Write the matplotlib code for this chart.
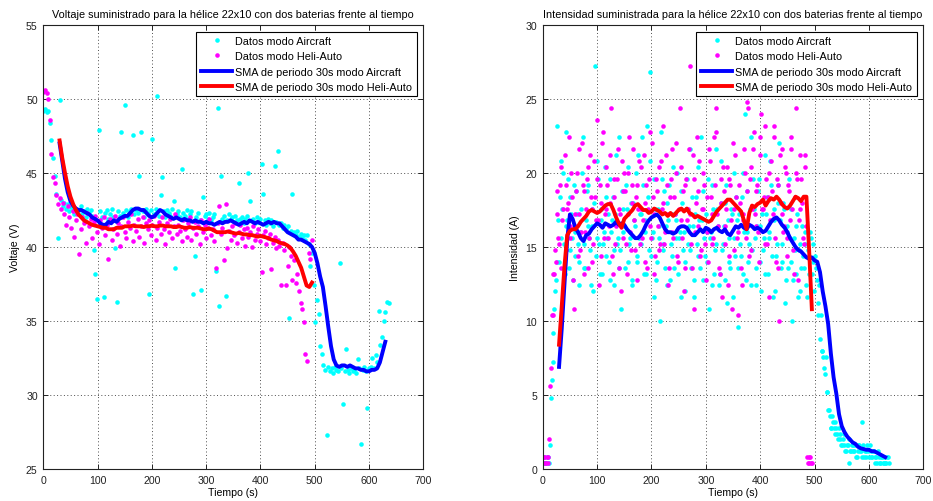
import numpy as np
import matplotlib
matplotlib.use("Agg")
import matplotlib.pyplot as plt

plt.rcParams['font.family'] = ['Liberation Sans', 'DejaVu Sans']

# muestras leidas cada 3 s, SMA leida cada 5 s desde t=30 s
paso_datos = 3
paso_sma = 5
inicio_sma = 30

# Voltaje (V)
volt_air = [
    49.2, 49.3, 49.1, 49.2, 48.4, 47.2, 46.0, 44.8, 43.6, 40.6,
    49.9, 43.2, 42.8, 43.0, 42.6, 42.9, 42.4, 42.7, 42.5, 42.2,
    42.6, 42.3, 42.5, 42.8, 42.2, 42.4, 42.0, 42.6, 42.3, 42.5,
    42.1, 39.8, 38.2, 36.5, 47.9, 42.4, 42.0, 36.6, 42.3, 42.5,
    41.9, 42.2, 42.6, 42.0, 39.9, 36.3, 42.4, 42.1, 47.8, 42.3,
    49.6, 42.5, 42.0, 42.4, 42.6, 47.6, 42.2, 42.5, 42.3, 44.8,
    47.8, 42.4, 42.0, 42.6, 42.3, 36.8, 42.5, 47.3, 42.2, 42.6,
    50.2, 42.1, 43.5, 44.7, 42.4, 42.0, 42.5, 42.3, 42.1, 42.6,
    43.1, 38.6, 42.2, 42.4, 42.0, 45.3, 42.3, 42.1, 42.5, 41.9,
    42.2, 42.4, 36.8, 39.4, 42.0, 42.3, 41.8, 37.1, 43.4, 42.1,
    42.2, 41.9, 42.3, 41.8, 42.0, 42.2, 38.4, 49.4, 36.0, 44.8,
    41.9, 42.1, 36.7, 41.8, 42.2, 41.9, 42.0, 41.7, 42.1, 41.8,
    44.3, 41.9, 42.0, 41.6, 41.9, 42.1, 45.0, 43.1, 41.8, 41.9,
    41.6, 42.0, 41.7, 41.9, 45.6, 43.6, 41.8, 41.5, 41.9, 41.6,
    41.8, 41.4, 45.5, 41.7, 46.5, 41.5, 41.6, 41.3, 41.5, 41.2,
    41.4, 35.2, 41.1, 43.6, 41.0, 40.8, 41.1, 40.7, 40.9, 40.6,
    40.8, 40.5, 40.8, 40.2, 38.7, 39.6, 37.4, 34.9, 36.4, 35.5,
    33.3, 32.8, 32.0, 31.7, 27.3, 31.9, 31.6, 31.8, 31.5, 31.9,
    31.7, 31.6, 38.9, 31.8, 29.4, 31.6, 33.1, 31.7, 31.5, 31.8,
    31.6, 31.7, 31.5, 32.4, 31.8, 26.7, 31.7, 31.9, 31.6, 29.1,
    31.8, 31.9, 32.5, 31.8, 32.7, 32.2, 35.7, 33.4, 33.9, 35.0,
    35.6, 36.3, 36.2]

volt_heli = [
    50.5, 50.6, 50.4, 50.0, 48.6, 46.3, 44.7, 44.3, 43.5, 42.9,
    43.3, 42.6, 43.0, 42.2, 41.5, 42.8, 42.0, 41.3, 42.4, 40.7,
    41.8, 42.2, 39.5, 41.2, 42.0, 41.6, 40.3, 42.3, 41.4, 41.9,
    40.6, 41.7, 42.1, 41.0, 40.2, 41.8, 41.3, 42.0, 40.8, 41.5,
    39.2, 41.9, 40.5, 41.2, 42.1, 40.9, 41.6, 40.1, 41.4, 42.0,
    41.0, 40.6, 41.7, 41.3, 42.2, 40.4, 41.5, 41.1, 41.9, 40.7,
    41.4, 42.0, 40.3, 41.6, 41.2, 41.8, 40.8, 41.5, 42.1, 40.5,
    41.3, 41.7, 40.9, 42.0, 41.2, 40.2, 41.6, 41.0, 41.9, 40.6,
    41.4, 42.2, 40.9, 41.5, 41.1, 40.4, 41.8, 41.2, 40.7, 41.6,
    42.0, 40.5, 41.3, 41.7, 40.9, 41.4, 40.2, 41.8, 41.0, 41.5,
    40.6, 41.3, 41.9, 40.8, 41.2, 40.4, 38.6, 41.6, 42.8, 40.9,
    41.3, 39.1, 42.9, 39.9, 41.1, 40.5, 41.4, 40.8, 41.6, 40.3,
    41.0, 41.5, 40.6, 41.2, 40.1, 41.3, 40.7, 41.0, 40.0, 41.4,
    40.5, 40.9, 41.2, 40.4, 38.3, 40.8, 41.1, 40.2, 40.6, 40.9,
    38.5, 40.3, 40.7, 39.9, 40.5, 40.1, 37.4, 40.3, 39.8, 37.4,
    38.7, 40.0, 39.4, 37.8, 39.1, 37.6, 38.2, 37.0, 36.2, 35.8,
    34.9, 32.8, 32.3, 39.6, 39.2, 40.5]

sma_volt_air = [
    47.0, 45.8, 44.6, 43.7, 43.1, 42.8, 42.6, 42.5, 42.5, 42.4,
    42.3, 42.2, 42.0, 41.9, 41.8, 41.6, 41.5, 41.5, 41.7, 41.6,
    41.8, 41.7, 41.9, 42.0, 42.1, 42.1, 42.3, 42.5, 42.6, 42.6,
    42.5, 42.5, 42.3, 42.1, 42.0, 42.1, 42.3, 42.5, 42.4, 42.2,
    42.1, 42.0, 41.9, 42.0, 41.9, 41.8, 41.9, 41.8, 41.8, 41.7,
    41.8, 41.7, 41.7, 41.6, 41.7, 41.6, 41.6, 41.5, 41.6, 41.7,
    41.6, 41.7, 41.7, 41.8, 41.7, 41.6, 41.5, 41.6, 41.7, 41.6,
    41.8, 41.7, 41.6, 41.7, 41.6, 41.5, 41.6, 41.7, 41.6, 41.7,
    41.6, 41.6, 41.4, 41.2, 41.0, 40.9, 40.8, 40.7, 40.5, 40.5,
    40.4, 40.3, 40.2, 40.0, 39.6, 38.9, 38.0, 37.3, 36.0, 34.6,
    33.3, 32.4, 32.0, 31.9, 32.0, 32.0, 31.9, 32.0, 31.9, 31.8,
    31.8, 31.7, 31.7, 31.6, 31.6, 31.7, 31.7, 31.8, 32.2, 32.9,
    33.6]

sma_volt_heli = [
    47.2, 46.0, 45.0, 44.1, 43.4, 42.9, 42.5, 42.2, 42.0, 41.8,
    41.7, 41.6, 41.5, 41.45, 41.4, 41.35, 41.3, 41.3, 41.2, 41.2,
    41.2, 41.3, 41.3, 41.3, 41.4, 41.4, 41.4, 41.45, 41.4, 41.4,
    41.4, 41.35, 41.4, 41.4, 41.45, 41.4, 41.4, 41.45, 41.45, 41.4,
    41.4, 41.4, 41.35, 41.35, 41.4, 41.35, 41.3, 41.3, 41.35, 41.3,
    41.3, 41.3, 41.25, 41.2, 41.2, 41.25, 41.2, 41.1, 41.0, 41.0,
    41.0, 41.0, 41.05, 41.0, 40.95, 40.9, 40.95, 40.9, 40.85, 40.85,
    40.8, 40.8, 40.75, 40.7, 40.75, 40.7, 40.65, 40.6, 40.5, 40.45,
    40.4, 40.3, 40.25, 40.2, 40.1, 39.95, 39.7, 39.4, 39.0, 38.6,
    38.0, 37.4, 37.3, 37.6]

# Intensidad (A): lecturas en t = 0, 3, 6 ... y en t = 1.5, 4.5, 7.5 ...
int_air = [
    0.4, 0.8, 0.4, 0.8, 0.4, 4.8, 7.2, 10.8, 12.8, 23.2,
    14.0, 20.8, 17.6, 15.2, 22.8, 16.8, 13.6, 18.4, 15.6, 19.2,
    14.4, 17.2, 12.4, 16.0, 20.0, 15.2, 13.6, 18.8, 16.4, 14.8,
    17.6, 12.0, 27.2, 15.6, 19.6, 13.2, 16.8, 15.2, 20.4, 14.4,
    17.2, 12.8, 16.0, 18.4, 14.8, 21.2, 15.6, 13.6, 10.8, 17.6,
    16.4, 19.2, 14.0, 15.2, 18.0, 12.4, 16.8, 20.0, 14.4, 15.6,
    17.2, 22.4, 13.2, 16.0, 23.2, 14.8, 26.8, 15.6, 11.6, 17.6,
    14.0, 16.4, 10.0, 19.6, 15.2, 13.6, 18.0, 16.8, 12.8, 14.4,
    20.4, 17.2, 15.6, 13.2, 16.0, 18.8, 14.8, 12.0, 17.6, 15.2,
    21.6, 13.6, 16.4, 11.6, 18.4, 14.4, 16.8, 22.4, 12.8, 15.6,
    17.2, 14.0, 10.8, 16.0, 19.2, 13.2, 15.2, 17.6, 12.4, 20.8,
    14.8, 16.4, 18.0, 11.2, 15.6, 13.6, 17.2, 20.0, 14.4, 16.8,
    9.6, 15.2, 18.4, 13.2, 24.0, 16.0, 14.0, 17.6, 12.4, 19.6,
    15.6, 13.6, 18.8, 16.4, 12.0, 14.8, 21.2, 17.2, 13.2, 15.6,
    19.2, 11.6, 16.8, 14.4, 18.0, 22.0, 13.6, 15.2, 17.6, 12.8,
    16.0, 19.6, 14.0, 10.0, 15.6, 13.2, 17.2, 14.8, 12.0, 16.4,
    13.6, 15.2, 11.6, 14.4, 16.0, 13.2, 15.2, 14.4, 12.8, 10.4,
    8.8, 8.0, 7.6, 6.4, 5.2, 4.0, 3.6, 2.8, 3.2, 2.4,
    2.8, 2.0, 2.4, 1.6, 2.0, 1.6, 1.2, 1.6, 0.4, 1.2,
    1.6, 1.2, 0.8, 1.2, 1.6, 1.2, 3.2, 0.8, 1.2, 1.6,
    0.8, 1.2, 0.8, 1.2, 0.8, 0.4, 0.8, 0.4, 0.8, 0.4,
    0.4, 0.8, 0.4]

int_air_b = [
    0.4, 0.4, 0.8, 0.4, 1.6, 6.0, 9.2, 12.0, 14.0, 16.8,
    18.4, 15.6, 20.0, 13.2, 16.4, 19.6, 14.8, 17.2, 12.8, 16.0,
    18.8, 15.2, 14.0, 17.6, 22.4, 13.6, 16.8, 19.2, 15.6, 12.4,
    16.4, 18.0, 14.4, 20.8, 15.2, 17.6, 13.2, 16.0, 18.4, 15.6,
    14.0, 19.6, 16.8, 12.4, 17.2, 15.2, 22.4, 14.8, 18.8, 16.0,
    13.6, 17.6, 20.4, 15.6, 12.8, 18.0, 16.4, 14.0, 21.2, 17.2,
    15.2, 19.2, 16.8, 13.2, 18.4, 20.8, 14.4, 16.0, 19.6, 12.8,
    17.6, 15.6, 22.8, 14.8, 18.8, 16.4, 12.4, 19.2, 15.2, 17.2,
    13.6, 16.8, 20.0, 15.6, 11.6, 18.0, 16.0, 14.0, 19.6, 16.4,
    14.8, 18.4, 12.8, 17.2, 15.2, 20.4, 13.6, 16.8, 18.8, 14.4,
    16.0, 19.6, 15.6, 12.4, 17.6, 14.8, 21.6, 16.4, 13.2, 18.0,
    15.2, 12.8, 19.2, 16.8, 14.0, 17.6, 11.6, 15.6, 18.4, 13.6,
    17.2, 14.4, 20.0, 16.0, 12.8, 18.8, 15.2, 22.4, 14.8, 17.6,
    12.4, 16.4, 19.6, 14.0, 17.2, 15.6, 13.2, 18.4, 16.0, 20.8,
    14.4, 17.6, 12.0, 15.2, 19.2, 16.8, 14.0, 18.0, 11.2, 16.4,
    13.6, 15.6, 17.6, 12.8, 14.8, 16.4, 11.6, 15.2, 13.6, 14.4,
    16.0, 12.4, 14.8, 13.2, 15.6, 14.0, 12.0, 13.6, 11.2, 12.4,
    10.4, 8.0, 6.8, 7.6, 5.2, 4.0, 2.8, 3.6, 2.8, 3.2,
    2.4, 2.8, 2.0, 1.6, 2.4, 1.2, 1.6, 2.0, 1.2, 1.6,
    1.2, 1.6, 0.8, 1.6, 1.2, 0.8, 1.6, 1.2, 0.8, 1.2,
    1.6, 0.8, 1.2, 0.4, 0.8, 1.2, 0.4, 0.8, 0.4, 0.8,
    0.4, 0.8]

int_heli = [
    0.4, 0.8, 0.4, 0.8, 2.0, 6.8, 10.4, 13.2, 14.0, 18.8,
    15.2, 20.4, 16.8, 13.2, 19.2, 17.6, 22.4, 15.6, 18.4, 10.8,
    16.4, 20.0, 17.2, 14.8, 22.0, 18.8, 16.0, 19.6, 13.6, 21.2,
    17.6, 15.2, 18.4, 23.6, 16.8, 19.2, 14.4, 22.8, 17.2, 20.4,
    15.6, 18.0, 24.4, 13.2, 19.6, 16.4, 21.6, 17.6, 12.0, 18.8,
    20.0, 15.2, 17.2, 22.4, 14.8, 19.2, 16.8, 18.4, 12.8, 20.8,
    17.6, 15.6, 21.2, 18.0, 13.6, 19.6, 16.4, 22.0, 17.2, 14.4,
    18.8, 20.4, 15.2, 17.6, 23.2, 16.0, 19.2, 12.4, 18.4, 21.6,
    15.6, 17.2, 20.0, 14.0, 24.4, 16.8, 18.8, 13.6, 19.6, 17.6,
    27.2, 15.2, 21.2, 10.8, 18.0, 16.4, 20.8, 14.8, 17.6, 19.2,
    12.8, 16.0, 21.6, 18.4, 15.2, 22.4, 24.4, 17.2, 13.6, 19.6,
    11.6, 18.8, 16.4, 20.4, 14.4, 19.2, 10.8, 17.6, 21.2, 15.6,
    10.4, 18.0, 12.4, 16.8, 20.0, 24.8, 24.4, 19.6, 14.8, 21.6,
    17.2, 18.8, 16.0, 22.4, 24.0, 17.6, 15.2, 19.6, 18.4, 11.6,
    20.8, 17.2, 23.2, 14.0, 19.2, 10.0, 18.0, 21.6, 16.4, 20.0,
    15.6, 18.8, 22.4, 17.6, 13.2, 24.4, 19.6, 16.8, 21.2, 18.0,
    15.2, 20.4, 0.8, 0.4, 0.8, 0.4]

int_heli_b = [
    0.8, 0.4, 0.8, 0.4, 5.6, 10.4, 13.2, 14.8, 17.2, 15.6,
    19.2, 13.6, 17.6, 21.2, 14.8, 18.0, 16.4, 20.0, 12.8, 17.2,
    18.8, 14.4, 21.6, 16.0, 19.2, 13.2, 17.6, 20.4, 15.6, 18.4,
    14.0, 20.8, 16.8, 19.6, 12.4, 18.0, 22.0, 15.6, 17.6, 19.2,
    16.4, 21.2, 14.4, 18.4, 15.2, 19.6, 13.6, 17.2, 20.8, 15.6,
    18.8, 13.2, 20.0, 16.0, 18.0, 21.6, 14.8, 19.2, 17.6, 15.2,
    20.4, 16.8, 14.0, 19.2, 17.6, 22.8, 15.6, 18.4, 13.2, 19.6,
    16.4, 14.8, 20.8, 18.0, 15.2, 21.2, 17.2, 13.6, 19.6, 16.0,
    18.4, 22.0, 14.4, 17.6, 20.4, 15.6, 12.0, 19.2, 16.8, 21.6,
    17.2, 13.6, 19.6, 16.0, 22.4, 18.8, 14.4, 17.6, 20.0, 15.2,
    18.4, 14.0, 20.8, 17.2, 15.6, 19.2, 22.8, 16.4, 13.2, 18.0,
    20.4, 15.2, 17.6, 12.4, 19.6, 16.8, 22.0, 14.8, 18.4, 16.0,
    19.2, 13.6, 17.2, 21.6, 15.6, 18.8, 14.4, 20.4, 17.6, 22.8,
    16.4, 19.2, 14.0, 21.2, 17.6, 18.4, 23.2, 15.2, 20.0, 16.8,
    18.8, 22.4, 15.6, 19.6, 13.6, 21.2, 17.2, 16.0, 20.4, 14.4,
    19.2, 16.8, 21.6, 14.8, 18.4, 20.0, 12.8, 17.6, 19.6, 15.6,
    21.2, 16.4, 0.4, 0.8, 0.4]

sma_int_air = [
    6.9, 9.5, 12.5, 15.5, 17.2, 16.9, 16.3, 16.0, 15.6, 15.4,
    15.8, 15.9, 16.2, 16.4, 16.6, 16.5, 16.3, 16.6, 16.5, 16.4,
    16.5, 16.7, 16.5, 16.6, 16.5, 16.2, 16.0, 15.8, 15.6, 15.6,
    15.8, 16.1, 16.5, 16.8, 17.0, 17.1, 17.2, 17.0, 16.6, 16.2,
    16.0, 16.0, 15.9, 16.0, 16.3, 16.4, 16.4, 16.3, 16.0, 15.8,
    15.8, 16.0, 16.2, 16.0, 16.3, 16.2, 16.0, 16.2, 16.3, 16.1,
    16.0, 16.2, 15.9, 15.8, 16.1, 16.4, 16.3, 16.5, 16.3, 16.2,
    16.5, 16.4, 16.2, 16.3, 16.2, 16.0, 16.1, 16.4, 16.7, 16.9,
    17.0, 16.8, 16.5, 16.3, 16.0, 15.6, 15.3, 15.0, 14.8, 14.7,
    14.5, 14.3, 14.2, 14.3, 14.1, 14.0, 13.3, 12.0, 11.0, 9.8,
    7.8, 6.2, 5.1, 3.7, 2.9, 2.5, 2.2, 2.0, 1.8, 1.7,
    1.5, 1.4, 1.35, 1.3, 1.3, 1.2, 1.2, 1.1, 1.0, 0.9,
    0.8]

sma_int_heli = [
    8.4, 11.0, 13.7, 15.8, 16.1, 16.2, 16.2, 16.4, 16.7, 16.9,
    17.1, 17.4, 17.5, 17.4, 17.3, 17.4, 17.6, 17.8, 17.9, 17.9,
    17.5, 17.0, 16.6, 16.3, 16.9, 17.1, 17.3, 17.5, 17.8, 17.9,
    17.7, 17.5, 17.5, 17.3, 17.4, 17.6, 17.5, 17.4, 17.2, 17.3,
    17.1, 17.3, 17.1, 17.3, 17.5, 17.6, 17.4, 17.6, 17.3, 17.2,
    17.0, 17.1, 17.0, 16.9, 16.8, 16.7, 16.8, 17.1, 17.4, 17.6,
    17.8, 18.0, 18.2, 18.2, 18.0, 17.8, 17.6, 17.4, 16.8, 16.2,
    17.3, 17.8, 17.7, 17.9, 18.0, 18.2, 17.8, 18.1, 18.3, 18.2,
    18.4, 18.2, 17.9, 17.7, 17.6, 17.8, 18.1, 18.4, 18.3, 18.1,
    18.4, 18.4, 14.8, 10.8]

etiquetas = ["Datos modo Aircraft", "Datos modo Heli-Auto",
             "SMA de periodo 30s modo Aircraft", "SMA de periodo 30s modo Heli-Auto"]


def tiempo(v, inicio, paso):
    return inicio + np.arange(len(v)) * paso


def juntar(a, b=None):
    t = tiempo(a, 0, paso_datos)
    v = np.array(a, dtype=float)
    if b is not None:
        t = np.concatenate([t, tiempo(b, paso_datos / 2, paso_datos)])
        v = np.concatenate([v, b])
    return t, v


def grafico(ax, d_air, d_heli, s_air, s_heli, titulo, ylabel, ylim):
    t, v = d_air
    ax.plot(t, v, 'o', color=(0, 1, 1), ms=3.3, mew=0, label=etiquetas[0])
    t, v = d_heli
    ax.plot(t, v, 'o', color=(1, 0, 1), ms=3.3, mew=0, label=etiquetas[1])
    ax.plot(tiempo(s_air, inicio_sma, paso_sma), s_air, '-', color=(0, 0, 1), lw=2.8,
            label=etiquetas[2])
    ax.plot(tiempo(s_heli, inicio_sma, paso_sma), s_heli, '-', color=(1, 0, 0), lw=2.8,
            label=etiquetas[3])
    ax.set_xlim(0, 700)
    ax.set_ylim(*ylim)
    ax.set_xticks(range(0, 701, 100))
    ax.set_yticks(range(ylim[0], ylim[1] + 1, 5))
    ax.grid(True, color='0.3', linestyle=(0, (1, 2.5)), linewidth=0.7)
    ax.tick_params(direction='in', top=True, right=True, length=3.6, width=0.7,
                   labelsize=7.6, colors='#222222', pad=4)
    for s in ax.spines.values():
        s.set_linewidth(0.8)
        s.set_color('#222222')
    ax.set_title(titulo, fontsize=7.8, pad=6)
    ax.set_xlabel("Tiempo (s)", fontsize=7.6, labelpad=2)
    ax.set_ylabel(ylabel, fontsize=7.6, labelpad=4)
    leg = ax.legend(loc='upper right', fontsize=7.8, fancybox=False, edgecolor='black',
                    framealpha=1, borderpad=0.4, labelspacing=0.5, handlelength=2.9,
                    handletextpad=0.3, borderaxespad=0.6, markerscale=1.0)
    leg.get_frame().set_linewidth(0.8)


fig = plt.figure(figsize=(9.33, 5.02), dpi=100)
ax1 = fig.add_axes([0.0464, 0.0637, 0.4073, 0.8845])
ax2 = fig.add_axes([0.5817, 0.0637, 0.4079, 0.8845])

grafico(ax1, juntar(volt_air), juntar(volt_heli), sma_volt_air, sma_volt_heli,
        "Voltaje suministrado para la hélice 22x10 con dos baterias frente al tiempo",
        "Voltaje (V)", (25, 55))
grafico(ax2, juntar(int_air, int_air_b), juntar(int_heli, int_heli_b),
        sma_int_air, sma_int_heli,
        "Intensidad suministrada para la hélice 22x10 con dos baterias frente al tiempo",
        "Intensidad (A)", (0, 30))

fig.savefig("out.png", dpi=100)
